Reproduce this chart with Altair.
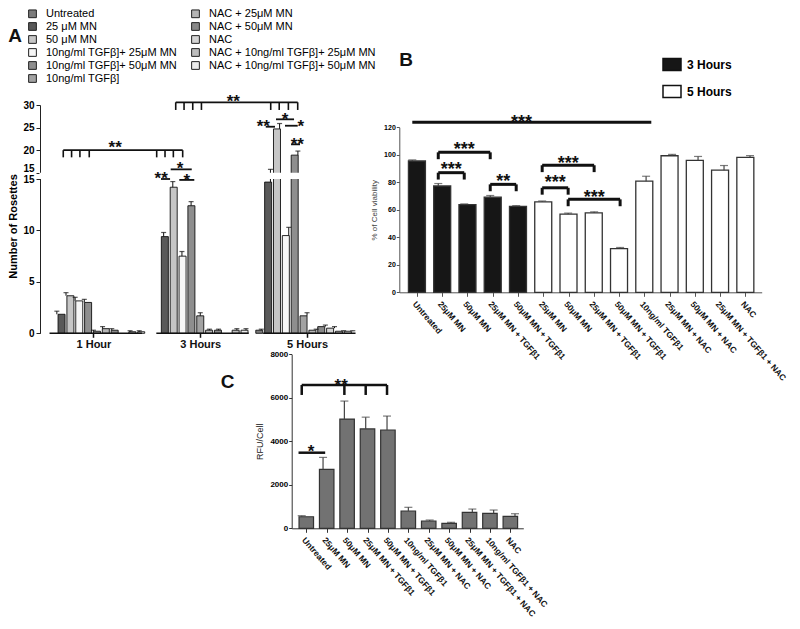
import json
import altair as alt
import pandas as pd

FONT = "Arial, Liberation Sans, sans-serif"

# ---------------- Panel A : number of rosettes ----------------
treatments = [
    "Untreated", "25 μM MN", "50 μM MN", "10ng/ml TGFβ]+ 25μM MN",
    "10ng/ml TGFβ]+ 50μM MN", "10ng/ml TGFβ]", "NAC + 25μM MN",
    "NAC + 50μM MN", "NAC", "NAC + 10ng/ml TGFβ]+ 25μM MN",
    "NAC + 10ng/ml TGFβ]+ 50μM MN",
]
treatment_fill = ["#7c7c7c", "#595959", "#c6c6c6", "#f6f6f6", "#8e8e8e",
                  "#a2a2a2", "#b5b5b5", "#888888", "#d4d4d4", "#bdbdbd", "#ececec"]
hour_groups = ["1 Hour", "3 Hours", "5 Hours"]
rosettes_1h = [0, 1.85, 3.65, 3.15, 3.0, 0.2, 0.45, 0.3, 0, 0.15, 0.15]
rosettes_1h_err = [0, 0.3, 0.3, 0.35, 0.3, 0.1, 0.2, 0.15, 0, 0.1, 0.1]
rosettes_3h = [0, 9.4, 14.2, 7.5, 12.4, 1.7, 0.3, 0.3, 0, 0.3, 0.3]
rosettes_3h_err = [0, 0.4, 0.55, 0.45, 0.4, 0.3, 0.1, 0.1, 0, 0.15, 0.15]
rosettes_5h = [0.3, 14.7, 24.7, 9.5, 18.9, 1.7, 0.3, 0.65, 0.5, 0.2, 0.2]
rosettes_5h_err = [0.1, 1.05, 1.2, 0.8, 0.9, 0.3, 0.1, 0.15, 0.15, 0.05, 0.05]

# significance annotations of panel A (slot units / rosette units)
a_line_x1 = [1.70, 13.99, 12.38, 13.44, 14.38, 23.83, 24.95, 25.93, 26.59]
a_line_x2 = [14.75, 27.32, 13.37, 15.74, 16.02, 24.84, 26.92, 27.32, 27.57]
a_line_y = [20.0, 30.6, 15.0, 15.75, 14.91, 25.19, 26.83, 25.41, 21.29]
a_leg_x = [1.70, 2.61, 3.52, 4.54, 11.91, 12.82, 13.73, 14.75,
           13.99, 14.9, 15.85, 16.8, 24.37, 25.3, 26.3, 27.32]
a_leg_top = [20.0] * 8 + [30.6] * 8
a_leg_bottom = [18.41] * 8 + [28.9] * 8
a_star_x = [7.37, 20.28, 12.4, 14.46, 15.19, 23.56, 25.93, 27.65, 27.28]
a_star_y = [21.5, 31.84, 15.008, 16.93, 15.004, 26.3, 27.79, 26.17, 22.25]
a_star_text = ["**", "**", "**", "*", "*", "**", "*", "*", "**"]

# ---------------- Panel B : cell viability ----------------
viability_labels = ["Untreated", "25μM MN", "50μM MN", "25μM MN + TGFβ1", "50μM MN + TGFβ1",
                    "25μM MN", "50μM MN", "25μM MN + TGFβ1", "50μM MN + TGFβ1",
                    "10ng/ml TGFβ1", "25μM MN + NAC", "50μM MN + NAC",
                    "25μM MN + TGFβ1 + NAC", "NAC"]
viability_time = ["3 Hours"] * 5 + ["5 Hours"] * 9
viability = [95.5, 77.3, 63.8, 69.2, 62.5, 65.8, 56.8, 57.7, 31.8, 80.8, 99.3, 96.0, 88.8, 98.2]
viability_err = [0.8, 1.8, 0.5, 1.2, 0.5, 0.6, 0.8, 0.8, 0.8, 3.6, 1.0, 2.8, 3.4, 1.2]

b_line_x1 = [0, 1, 1, 3, 5, 5, 6]
b_line_x2 = [9.2, 3, 2, 4, 7, 6, 8]
b_line_y = [123.6, 101.8, 87.0, 78.5, 92.4, 76.0, 67.6]
b_star_x = [4.2, 2.0, 1.5, 3.5, 6.0, 5.5, 7.0]
b_star_y = [127.1, 107.1, 92.6, 84.1, 96.9, 83.3, 72.4]
b_star_text = ["***", "***", "***", "**", "***", "***", "***"]

# ---------------- Panel C : RFU per cell ----------------
rfu_labels = ["Untreated", "25μM MN", "50μM MN", "25μM MN + TGFβ1", "50μM MN + TGFβ1",
              "10ng/ml TGFβ1", "25μM MN + NAC", "50μM MN + NAC", "25μM MN + TGFβ1 + NAC",
              "10ng/ml TGFβ1 + NAC", "NAC"]
rfu = [530, 2710, 5020, 4570, 4520, 795, 335, 230, 735, 690, 550]
rfu_err = [50, 550, 830, 540, 640, 170, 45, 45, 150, 150, 120]

c_line_x1 = [-0.15, 0]
c_line_x2 = [1.1, 4]
c_line_y = [3476, 6590]
c_leg_x = [0, 2, 3, 4]
c_leg_top = [6590] * 4
c_leg_bottom = [6130] * 4
c_star_x = [0.44, 1.85]
c_star_y = [3752, 6786]
c_star_text = ["*", "**"]

# ====================== build ======================
GROUP_STEP = 11.67
W, H = 784, 613
LABEL_ANGLE = 49

def lin(domain, rng):
    return alt.Scale(domain=domain, range=rng, nice=False, zero=False)

def star_mark(fs):
    return dict(font=FONT, fontSize=fs, fontWeight="bold", baseline="alphabetic",
                align="center", dy=round(0.58 * fs, 1), color="#111")

layers = []

# ---- panel A
A_XS = lin([0, 33.34], [39.7, 344.8])
A_YS = lin([0, 15, 15.01, 30], [325.3, 171, 164.7, 97])
rows = []
for gi, (vals, errs) in enumerate([(rosettes_1h, rosettes_1h_err),
                                   (rosettes_3h, rosettes_3h_err),
                                   (rosettes_5h, rosettes_5h_err)]):
    for ti, (v, e) in enumerate(zip(vals, errs)):
        if v > 0:
            rows.append(dict(pos=gi * GROUP_STEP + ti, treatment=treatments[ti],
                             val=v, top=v + e, base=0))
dfA = pd.DataFrame(rows)

a_bars = alt.Chart(dfA).mark_bar(size=7, stroke="#111", strokeWidth=0.9).encode(
    x=alt.X("pos:Q", scale=A_XS, axis=None),
    y=alt.Y("val:Q", scale=A_YS, axis=alt.Axis(
        orient="left", offset=-32, values=[0, 5, 10, 15, 15.01, 20, 25, 30], format="d",
        labelOverlap=False, labelFontSize=10, labelFontWeight="bold", tickSize=4,
        labelOffset={"condition": {"test": "datum.value > 15.005 && datum.value < 15.1",
                                   "value": -4.5}, "value": 0},
        title="Number of Rosettes", titleFontSize=11, titleFontWeight="bold",
        titlePadding=4, titleY=218, labelPadding=2, domainColor="#222", tickColor="#222")),
    y2="base:Q",
    color=alt.Color("treatment:N", scale=alt.Scale(domain=treatments, range=treatment_fill),
                    legend=alt.Legend(orient="none", legendX=19, legendY=0, columns=2,
                                      title=None, symbolType="square", symbolSize=60,
                                      symbolStrokeColor="#222", symbolStrokeWidth=1,
                                      labelFontSize=11, labelFont=FONT, rowPadding=0,
                                      columnPadding=12, labelOffset=8, labelLimit=400,
                                      padding=0)),
)
a_err = alt.Chart(dfA).mark_rule(color="#111", strokeWidth=1).encode(
    x=alt.X("pos:Q", scale=A_XS, axis=None),
    y=alt.Y("val:Q", scale=A_YS, axis=None), y2="top:Q")
a_cap = alt.Chart(dfA).mark_tick(orient="horizontal", size=5, thickness=1.2, color="#111").encode(
    x=alt.X("pos:Q", scale=A_XS, axis=None),
    y=alt.Y("top:Q", scale=A_YS, axis=None))
a_gap = alt.Chart(pd.DataFrame({"x1": [-0.9], "x2": [34], "y1": [15], "y2": [15.01]})).mark_rect(
    color="white").encode(
    x=alt.X("x1:Q", scale=A_XS, axis=None), x2="x2:Q",
    y=alt.Y("y1:Q", scale=A_YS, axis=None), y2="y2:Q")
seg = pd.DataFrame({"s": [g * GROUP_STEP + 0.2 for g in range(3)],
                    "e": [g * GROUP_STEP + 10.3 for g in range(3)], "z": [0, 0, 0]})
a_seg = alt.Chart(seg).mark_rule(color="#111", strokeWidth=1.5).encode(
    x=alt.X("s:Q", scale=A_XS, axis=alt.Axis(
        orient="bottom", offset=-(H - 325.3), values=[g * GROUP_STEP + 5 for g in range(3)],
        labelExpr=json.dumps(hour_groups, ensure_ascii=False) + f"[round((datum.value - 5) / {GROUP_STEP})]",
        domain=False, tickSize=4, tickWidth=1.5, tickColor="#111", labelFontSize=11,
        labelFontWeight="bold", labelPadding=1, title=None, labelColor="#111")),
    x2="e:Q",
    y=alt.Y("z:Q", scale=A_YS, axis=None))
a_lines = alt.Chart(pd.DataFrame({"x1": a_line_x1, "x2": a_line_x2, "y": a_line_y})).mark_rule(
    color="#111", strokeWidth=1.8).encode(
    x=alt.X("x1:Q", scale=A_XS, axis=None), x2="x2:Q",
    y=alt.Y("y:Q", scale=A_YS, axis=None))
a_legs = alt.Chart(pd.DataFrame({"x": a_leg_x, "t": a_leg_top, "b": a_leg_bottom})).mark_rule(
    color="#111", strokeWidth=1.6).encode(
    x=alt.X("x:Q", scale=A_XS, axis=None),
    y=alt.Y("t:Q", scale=A_YS, axis=None), y2="b:Q")
a_stars = alt.Chart(pd.DataFrame({"x": a_star_x, "y": a_star_y, "t": a_star_text})).mark_text(
    **star_mark(17)).encode(
    x=alt.X("x:Q", scale=A_XS, axis=None),
    y=alt.Y("y:Q", scale=A_YS, axis=None), text="t:N")
layers += [a_bars, a_err, a_cap, a_gap, a_seg, a_lines, a_legs, a_stars]

# ---- panel B
B_XS = lin([-0.5, 13.45], [391.3, 753.7])
B_YS = lin([0, 120], [284.3, 119.3])
dfB = pd.DataFrame({"i": list(range(len(viability))), "val": viability,
                    "top": [v + e for v, e in zip(viability, viability_err)],
                    "time": viability_time, "base": 0})
b_bars = alt.Chart(dfB).mark_bar(size=17, stroke="#333", strokeWidth=1.3).encode(
    x=alt.X("i:Q", scale=B_XS, axis=alt.Axis(
        orient="bottom", offset=-(H - 284.3), values=list(range(len(viability))),
        labelExpr=json.dumps(viability_labels, ensure_ascii=False) + "[datum.value]",
        labelAngle=LABEL_ANGLE, labelAlign="left", labelBaseline="top", labelFontSize=8.5,
        labelFontWeight="bold", labelOverlap=False, labelPadding=3, tickSize=4,
        title=None, domainColor="#555", tickColor="#555", labelColor="#111", labelBound=False)),
    y=alt.Y("val:Q", scale=B_YS, axis=alt.Axis(
        orient="left", offset=-391.3, values=[0, 20, 40, 60, 80, 100, 120],
        labelFontSize=7, labelFontWeight="bold", tickSize=3, labelPadding=1,
        title="% of Cell viability", titleFontSize=8, titleFontWeight="normal",
        titleColor="#444", titlePadding=5, domainColor="#555", tickColor="#555")),
    y2="base:Q",
    color=alt.Color("time:N", scale=alt.Scale(domain=["3 Hours", "5 Hours"],
                                              range=["#161616", "#ffffff"]),
                    legend=alt.Legend(orient="none", legendX=657, legendY=49.5, title=None,
                                      symbolType="M-1.5,-1H1.5V1H-1.5Z", symbolSize=144,
                                      symbolStrokeColor="#111", symbolStrokeWidth=1.5,
                                      labelFontSize=12, labelFontWeight="bold", labelFont=FONT,
                                      rowPadding=9, labelOffset=8, padding=0)),
)
b_err = alt.Chart(dfB).mark_rule(color="#444", strokeWidth=1.2).encode(
    x=alt.X("i:Q", scale=B_XS, axis=None),
    y=alt.Y("val:Q", scale=B_YS, axis=None), y2="top:Q")
b_cap = alt.Chart(dfB).mark_tick(orient="horizontal", size=8, thickness=1.2, color="#444").encode(
    x=alt.X("i:Q", scale=B_XS, axis=None),
    y=alt.Y("top:Q", scale=B_YS, axis=None))
b_lines = alt.Chart(pd.DataFrame({"x1": b_line_x1, "x2": b_line_x2, "y": b_line_y})).mark_rule(
    color="#111", strokeWidth=3).encode(
    x=alt.X("x1:Q", scale=B_XS, axis=None), x2="x2:Q",
    y=alt.Y("y:Q", scale=B_YS, axis=None))
b_leg_rows = []
for x1, x2, y in zip(b_line_x1[1:], b_line_x2[1:], b_line_y[1:]):
    b_leg_rows += [dict(x=x1, t=y, b=y - 5), dict(x=x2, t=y, b=y - 5)]
b_legs = alt.Chart(pd.DataFrame(b_leg_rows)).mark_rule(color="#111", strokeWidth=3).encode(
    x=alt.X("x:Q", scale=B_XS, axis=None),
    y=alt.Y("t:Q", scale=B_YS, axis=None), y2="b:Q")
b_stars = alt.Chart(pd.DataFrame({"x": b_star_x, "y": b_star_y, "t": b_star_text})).mark_text(
    **star_mark(18)).encode(
    x=alt.X("x:Q", scale=B_XS, axis=None),
    y=alt.Y("y:Q", scale=B_YS, axis=None), text="t:N")
layers += [b_bars, b_err, b_cap, b_lines, b_legs, b_stars]

# ---- panel C
C_XS = lin([-0.47, 10.39], [283.7, 515.3])
C_YS = lin([0, 8000], [520.3, 346.3])
dfC = pd.DataFrame({"i": list(range(len(rfu))), "val": rfu,
                    "top": [v + e for v, e in zip(rfu, rfu_err)], "base": 0})
c_bars = alt.Chart(dfC).mark_bar(size=14.5, color="#727272", stroke="#333", strokeWidth=1.2).encode(
    x=alt.X("i:Q", scale=C_XS, axis=alt.Axis(
        orient="bottom", offset=-(H - 520.3), values=list(range(len(rfu))),
        labelExpr=json.dumps(rfu_labels, ensure_ascii=False) + "[datum.value]",
        labelAngle=LABEL_ANGLE, labelAlign="left", labelBaseline="top", labelFontSize=8.5,
        labelFontWeight="bold", labelOverlap=False, labelPadding=3, tickSize=4,
        title=None, domainColor="#333", tickColor="#333", labelColor="#111", labelBound=False)),
    y=alt.Y("val:Q", scale=C_YS, axis=alt.Axis(
        orient="left", offset=-283.7, values=[0, 2000, 4000, 6000, 8000], format="d",
        labelFontSize=8, labelFontWeight="bold", tickSize=3, labelPadding=1,
        title="RFU/Cell", titleFontSize=9, titleFontWeight="normal",
        titleColor="#222", titlePadding=5, domainColor="#333", tickColor="#333")),
    y2="base:Q",
)
c_err = alt.Chart(dfC).mark_rule(color="#444", strokeWidth=1.2).encode(
    x=alt.X("i:Q", scale=C_XS, axis=None),
    y=alt.Y("val:Q", scale=C_YS, axis=None), y2="top:Q")
c_cap = alt.Chart(dfC).mark_tick(orient="horizontal", size=8, thickness=1.2, color="#444").encode(
    x=alt.X("i:Q", scale=C_XS, axis=None),
    y=alt.Y("top:Q", scale=C_YS, axis=None))
c_lines = alt.Chart(pd.DataFrame({"x1": c_line_x1, "x2": c_line_x2, "y": c_line_y})).mark_rule(
    color="#111", strokeWidth=2.5).encode(
    x=alt.X("x1:Q", scale=C_XS, axis=None), x2="x2:Q",
    y=alt.Y("y:Q", scale=C_YS, axis=None))
c_legs = alt.Chart(pd.DataFrame({"x": c_leg_x, "t": c_leg_top, "b": c_leg_bottom})).mark_rule(
    color="#111", strokeWidth=2.5).encode(
    x=alt.X("x:Q", scale=C_XS, axis=None),
    y=alt.Y("t:Q", scale=C_YS, axis=None), y2="b:Q")
c_stars = alt.Chart(pd.DataFrame({"x": c_star_x, "y": c_star_y, "t": c_star_text})).mark_text(
    **star_mark(17)).encode(
    x=alt.X("x:Q", scale=C_XS, axis=None),
    y=alt.Y("y:Q", scale=C_YS, axis=None), text="t:N")
layers += [c_bars, c_err, c_cap, c_lines, c_legs, c_stars]

# ---- panel letters
for letter, px, py in [("A", 7, 28), ("B", 398, 52), ("C", 219.5, 373.7)]:
    layers.append(alt.Chart(pd.DataFrame({"t": [letter]})).mark_text(
        font=FONT, fontSize=19, fontWeight="bold", baseline="middle", align="center",
        color="#111").encode(text="t:N", x=alt.value(px), y=alt.value(py)))

chart = alt.layer(*layers).resolve_scale(
    x="independent", y="independent", color="independent"
).properties(
    width=W, height=H, autosize=alt.AutoSizeParams(type="none"), padding=0
).configure_view(stroke=None).configure_axis(
    grid=False, labelFont=FONT, titleFont=FONT
)

chart.save("out.html", embed_options={"renderer": "svg", "actions": False})
